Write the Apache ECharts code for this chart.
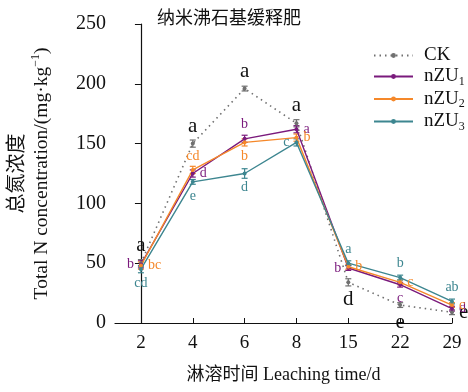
<!DOCTYPE html>
<html><head><meta charset="utf-8">
<script src="https://cdn.jsdelivr.net/npm/echarts@6/dist/echarts.min.js"></script>
<style>html,body{margin:0;padding:0;background:#fff}#c{width:468px;height:392px}</style>
</head><body><div id="c"></div>
<script>
const categories = ['2','4','6','8','15','22','29'];
const ck   = [50, 150, 196, 167, 34, 15, 9];
const nzu1 = [49, 125, 154, 162, 46, 32, 12];
const nzu2 = [48, 128, 151, 155, 47, 34, 15];
const nzu3 = [45, 118, 125, 151, 50, 38, 18];
const ckErr   = [3, 3, 2, 3, 3, 2, 2];
const nzu1Err = [3, 3, 3, 3, 2, 2, 2];
const nzu2Err = [3, 3, 3, 3, 2, 2, 2];
const nzu3Err = [3, 2, 4, 3, 2, 2, 2];
const ckLetters   = ['a','a','a','a','d','e','e'];
const nzu1Letters = ['b','d','b','a','b','c','d'];
const nzu2Letters = ['bc','cd','b','b','b','c','c'];
const nzu3Letters = ['cd','e','d','c','a','b','ab'];

const serif = '"Liberation Serif","Times New Roman","Noto Sans CJK SC",serif';
const C = {ck:'#707070', n1:'#7a1a7c', n2:'#f5882a', n3:'#3d8690'};

// label placement (style only)
const ckPos = [['top',[0,-2]],['top',[0,-2]],['top',[0,-2]],['top',[0,-2]],['bottom',[2,-4]],['bottom',[0,-4]],['right',[-4,0]]];
const n1Pos = [['left',[-4,0]],['right',[-1,1]],['top',[0,-8]],['right',[2,-2]],['left',[-2,2]],['bottom',[0,-1]],['right',[-3,2]]];
const n2Pos = [['right',[6,3]],['top',[0,-5]],['bottom',[0,0]],['right',[5,3]],['right',[-1,-8]],['right',[14,-9]],['right',[-3,-4]]];
const n3Pos = [['bottom',[0,0]],['bottom',[0,-1]],['bottom',[0,3]],['left',[-2,12]],['top',[0,-8]],['top',[0,-4]],['top',[0,-2]]];

function mkData(vals, letters, pos, color, big) {
  return vals.map((v,i)=>({
    value:[i,v],
    label:{show:true, formatter:letters[i], position:pos[i][0], offset:pos[i][1],
      color: big ? '#111' : color, fontSize: big ? 21 : 14, fontFamily: serif}
  }));
}
function errSeries(vals, errs, color) {
  return {
    type:'custom', silent:true, z:3,
    data: vals.map((v,i)=>[i, v, errs[i]]),
    renderItem(params, api){
      const x = api.value(0), y = api.value(1), e = api.value(2);
      const hi = api.coord([x, y+e]), lo = api.coord([x, y-e]);
      const w = 3;
      return {type:'group', children:[
        {type:'line', shape:{x1:hi[0],y1:hi[1],x2:lo[0],y2:lo[1]}, style:{stroke:color,lineWidth:1.2}},
        {type:'line', shape:{x1:hi[0]-w,y1:hi[1],x2:hi[0]+w,y2:hi[1]}, style:{stroke:color,lineWidth:1.2}},
        {type:'line', shape:{x1:lo[0]-w,y1:lo[1],x2:lo[0]+w,y2:lo[1]}, style:{stroke:color,lineWidth:1.2}}
      ]};
    }
  };
}
function lineSeries(name, vals, letters, pos, color, dotted, big) {
  return {
    name, type:'line', z:4,
    data: mkData(vals, letters, pos, color, big),
    symbol:'circle', symbolSize:4,
    itemStyle:{color},
    lineStyle:{color, width: dotted ? 1.6 : 1.4, type: dotted ? [1.5,4] : 'solid'},
    labelLayout:{hideOverlap:false}
  };
}

const chart = echarts.init(document.getElementById('c'));
chart.setOption({
  animation:false,
  backgroundColor:'#fff',
  title:{text:'纳米沸石基缓释肥', left:152, top:5,
    textStyle:{fontFamily:serif, fontSize:18, fontWeight:'normal', color:'#111'}},
  legend:{
    orient:'vertical', left:368, top:41, itemGap:2, itemWidth:39, itemHeight:6,
    data:['CK','nZU1','nZU2','nZU3'],
    formatter:n => n==='CK' ? '{a|CK}' : '{a|nZU}{s|'+n.slice(3)+'}',
    textStyle:{padding:[0,0,0,6], rich:{
      a:{fontFamily:serif, fontSize:19, color:'#111', lineHeight:20},
      s:{fontFamily:serif, fontSize:12, color:'#111', verticalAlign:'bottom', padding:[10,0,0,0]}
    }}
  },
  grid:{left:113, right:16, top:24, bottom:69},
  xAxis:{
    type:'value', min:-0.5, max:6,
    name:'淋溶时间 Leaching time/d', nameLocation:'middle', nameGap:43,
    nameTextStyle:{fontFamily:serif, fontSize:18, color:'#111'},
    splitLine:{show:false},
    axisLine:{show:true, lineStyle:{color:'#111', width:1.2}},
    axisTick:{show:true, inside:true, length:5, customValues:[0,1,2,3,4,5,6], lineStyle:{color:'#111'}},
    axisLabel:{customValues:[0,1,2,3,4,5,6], formatter:v=>categories[Math.round(v)], margin:11,
      fontFamily:serif, fontSize:19, color:'#111'}
  },
  yAxis:{
    type:'value', min:0, max:250, interval:50,
    name:'{c|总氮浓度}\n{e|Total N concentration/(mg·kg}{p|−1}{e|)}',
    nameLocation:'middle', nameGap:61, nameRotate:90,
    nameTextStyle:{rich:{
      c:{fontFamily:serif, fontSize:20, color:'#111', lineHeight:24},
      e:{fontFamily:serif, fontSize:19.5, color:'#111', lineHeight:24},
      p:{fontFamily:serif, fontSize:12, color:'#111', verticalAlign:'top', padding:[0,0,8,0]}
    }},
    splitLine:{show:false},
    axisLine:{show:true, lineStyle:{color:'#111', width:1.2}},
    axisTick:{show:true, length:6, lineStyle:{color:'#111'}},
    axisLabel:{fontFamily:serif, fontSize:20, color:'#111', margin:9}
  },
  series:[
    errSeries(ck, ckErr, C.ck),
    errSeries(nzu1, nzu1Err, C.n1),
    errSeries(nzu2, nzu2Err, C.n2),
    errSeries(nzu3, nzu3Err, C.n3),
    lineSeries('CK', ck, ckLetters, ckPos, C.ck, true, true),
    lineSeries('nZU1', nzu1, nzu1Letters, n1Pos, C.n1, false, false),
    lineSeries('nZU2', nzu2, nzu2Letters, n2Pos, C.n2, false, false),
    lineSeries('nZU3', nzu3, nzu3Letters, n3Pos, C.n3, false, false)
  ]
});
</script></body></html>
